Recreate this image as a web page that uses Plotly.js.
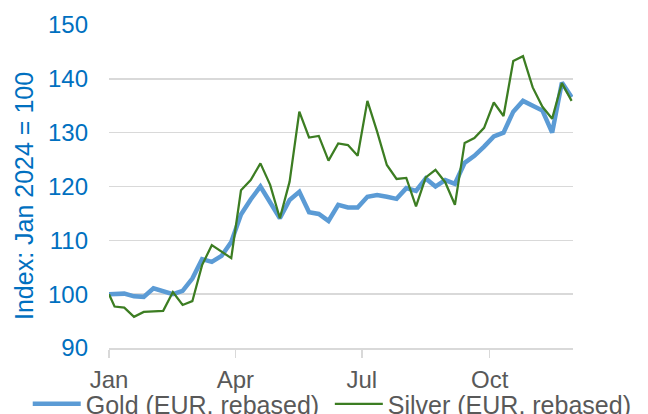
<!DOCTYPE html>
<html>
<head>
<meta charset="utf-8">
<script src="https://cdn.plot.ly/plotly-3.0.1.min.js"></script>
<style>html,body{margin:0;padding:0;background:#fff;}#chart{width:648px;height:414px;}</style>
</head>
<body>
<div id="chart"></div>
<script>
const dates = ["2024-01-01","2024-01-05","2024-01-12","2024-01-19","2024-01-26","2024-02-02","2024-02-09","2024-02-16","2024-02-23","2024-03-01","2024-03-08","2024-03-15","2024-03-22","2024-03-29","2024-04-05","2024-04-12","2024-04-19","2024-04-26","2024-05-03","2024-05-10","2024-05-17","2024-05-24","2024-05-31","2024-06-07","2024-06-14","2024-06-21","2024-06-28","2024-07-05","2024-07-12","2024-07-19","2024-07-26","2024-08-02","2024-08-09","2024-08-16","2024-08-23","2024-08-30","2024-09-06","2024-09-13","2024-09-20","2024-09-27","2024-10-04","2024-10-11","2024-10-18","2024-10-25","2024-11-01","2024-11-08","2024-11-15","2024-11-22","2024-11-29"];
const gold = [100.0,100.1,100.1,99.6,99.5,101.1,100.5,100.0,100.6,102.9,106.5,106.0,107.1,109.7,114.8,117.6,120.0,117.0,114.1,117.5,119.0,115.2,114.9,113.6,116.6,116.1,116.1,118.1,118.4,118.1,117.7,119.7,119.2,121.5,120.0,121.2,120.5,124.4,125.7,127.4,129.3,130.0,133.9,135.9,135.1,134.1,130.0,139.3,136.6];
const silver = [100.0,97.7,97.5,95.8,96.7,96.8,96.9,100.4,98.0,98.7,105.4,109.1,107.9,106.7,119.3,121.2,124.3,120.3,114.1,120.9,133.9,129.1,129.4,124.8,128.0,127.7,125.7,135.9,130.2,124.0,121.4,121.6,116.3,121.7,123.1,120.8,116.6,128.1,129.0,130.9,135.6,133.1,143.3,144.2,138.4,134.8,132.6,139.2,135.9];
const seriesNames = ["Gold (EUR, rebased)", "Silver (EUR, rebased)"];
const yTitle = "Index: Jan 2024 = 100";
const xTickVals = ["2024-01-01","2024-04-01","2024-07-01","2024-10-01"];
const xTickText = ["Jan","Apr","Jul","Oct"];
const yTicks = [90,100,110,120,130,140,150];

const font = "Liberation Sans, Arial, sans-serif";
const traces = [
  {x: dates, y: gold, name: seriesNames[0], type: "scatter", mode: "lines",
   line: {color: "#5B9BD5", width: 4.5}, legend: "legend"},
  {x: dates, y: silver, name: seriesNames[1], type: "scatter", mode: "lines",
   line: {color: "#3C7D22", width: 2.25}, legend: "legend2"}
];
const legendBase = {orientation: "h", xref: "container", yref: "container",
  xanchor: "left", y: 0.024, yanchor: "middle",
  font: {family: font, size: 25, color: "#595959"}, itemwidth: 48,
  bgcolor: "rgba(0,0,0,0)", borderwidth: 0};
const layout = {
  width: 648, height: 414,
  margin: {l: 109, r: 75, t: 25, b: 66, pad: 0, autoexpand: false},
  paper_bgcolor: "#fff", plot_bgcolor: "#fff",
  font: {family: font, size: 24, color: "#595959"},
  showlegend: true,
  legend: Object.assign({}, legendBase, {x: 0.0428}),
  legend2: Object.assign({}, legendBase, {x: 0.509}),
  xaxis: {type: "date", range: ["2024-01-01", "2024-11-30"],
          tickvals: xTickVals, ticktext: xTickText, ticks: "outside", ticklen: 8,
          tickcolor: "#D9D9D9", tickwidth: 1.5,
          showline: true, linecolor: "#D9D9D9", linewidth: 1.5,
          showgrid: false, zeroline: false, ticklabelstandoff: 2,
          tickfont: {family: font, size: 24, color: "#595959"}},
  yaxis: {range: [90, 150], tickvals: yTicks, ticks: "", showline: false,
          gridcolor: "#D9D9D9", gridwidth: 1.5, zeroline: false,
          ticklabelstandoff: 20,
          tickfont: {family: font, size: 24, color: "#0070C0"}},
  yaxis2: {range: [90, 150], tickvals: yTicks, overlaying: "y", side: "right",
           showgrid: false, zeroline: false, showline: false, ticks: "",
           ticklabelstandoff: 22,
           tickfont: {family: font, size: 24, color: "#0070C0"}},
  annotations: [{text: yTitle, textangle: -90, xref: "paper", yref: "paper",
                 x: (24 - 109) / 464, y: (348 - 196) / 323, xanchor: "center", yanchor: "middle",
                 showarrow: false, font: {family: font, size: 25, color: "#0070C0"}}]
};
Plotly.newPlot("chart", traces, layout, {displayModeBar: false, staticPlot: true});
</script>
</body>
</html>
